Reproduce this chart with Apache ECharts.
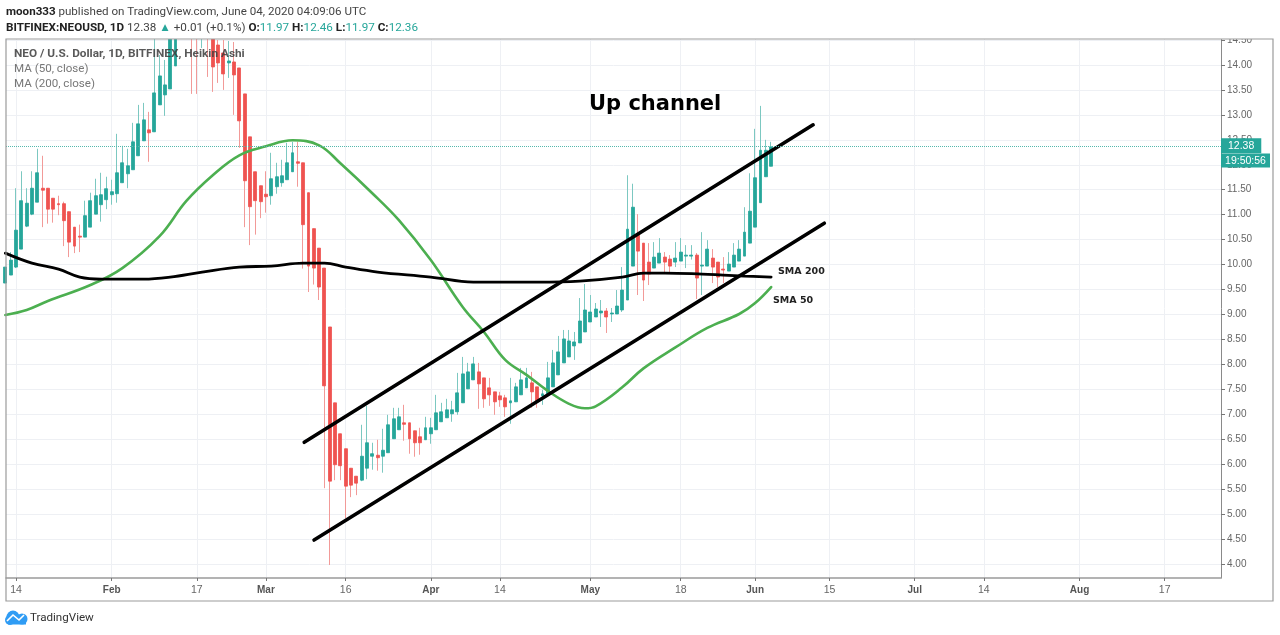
<!DOCTYPE html>
<html><head><meta charset="utf-8">
<style>html,body{margin:0;padding:0;background:#fff}#c{width:1280px;height:635px}</style>
<script src="https://cdn.jsdelivr.net/npm/echarts@6/dist/echarts.min.js"></script>
</head><body><div id="c"></div>
<script>
const firstDay = -2; // day index 0 = Jan 14 2020
const candleOpen = [
9.63,9.79,9.95,10.31,10.77,11.01,11.25,11.53,11.53,11.33,
11.22,11.22,11.06,10.75,10.57,10.55,10.75,11.01,11.20,11.30,
11.40,11.42,11.64,11.82,11.90,12.18,12.48,12.70,12.66,13.20,
13.40,13.52,13.98,14.90,15.30,15.20,15.00,14.70,15.00,14.80,
14.40,14.24,14.04,14.06,13.94,13.42,12.56,11.86,11.58,11.41,
11.38,11.56,11.64,11.70,11.86,12.06,12.04,11.44,10.72,10.33,
9.93,8.75,7.23,6.61,6.31,5.92,5.76,5.68,5.92,6.16,
6.18,6.16,6.23,6.51,6.69,6.83,6.83,6.67,6.55,6.49,
6.61,6.69,6.85,6.93,7.01,7.05,7.23,7.51,7.69,7.85,
7.73,7.53,7.45,7.37,7.33,7.23,7.25,7.39,7.53,7.63,
7.55,7.37,7.41,7.55,7.79,8.03,8.15,8.37,8.43,8.65,
8.85,8.95,9.03,9.07,9.01,9.01,9.09,9.29,9.97,10.59,
10.43,10.05,9.93,10.03,10.15,10.11,10.05,10.07,10.17,10.17,
10.19,9.97,9.97,10.13,10.05,9.91,9.87,9.95,10.07,10.17,
10.43,10.75,11.24,11.76,11.97];
const candleClose = [
9.95,10.09,10.69,11.28,11.23,11.53,11.84,11.49,11.11,11.11,
11.20,10.88,10.45,10.37,10.55,10.98,11.28,11.38,11.40,11.52,
11.46,11.84,12.04,11.98,12.46,12.82,12.90,12.64,13.44,13.78,
13.60,14.80,15.00,15.30,15.00,14.80,14.60,15.00,14.70,13.96,
14.04,13.82,14.08,13.80,12.88,11.68,11.16,11.28,11.26,11.36,
11.72,11.76,11.78,12.04,12.24,12.03,10.80,9.97,9.93,9.55,
7.57,5.66,5.99,5.97,5.56,5.58,5.62,6.16,6.43,6.21,
6.13,6.28,6.79,6.91,6.95,6.80,6.51,6.43,6.43,6.73,
6.73,7.03,7.05,7.09,7.09,7.43,7.81,7.85,8.01,7.61,
7.31,7.39,7.25,7.29,7.15,7.27,7.55,7.69,7.73,7.45,
7.27,7.41,7.73,8.03,8.25,8.51,8.47,8.45,8.87,9.09,
9.05,9.11,9.07,8.95,9.03,9.17,9.49,10.71,11.15,10.27,
9.69,9.81,10.15,10.23,10.05,9.97,10.13,10.25,10.19,10.19,
9.73,9.99,10.31,9.95,9.75,9.89,10.01,10.19,10.31,10.65,
11.07,11.74,12.29,12.29,12.36];
const candleLow = [
9.6,9.79,9.93,10.31,10.75,10.99,11.25,10.75,10.82,10.84,
10.99,10.37,10.15,10.23,10.25,10.55,10.75,11.01,10.86,11.11,
11.20,11.24,11.64,11.53,11.90,12.18,12.48,12.06,12.66,13.20,
12.98,13.52,13.98,14.90,14.70,13.42,13.42,14.34,13.76,13.46,
13.64,13.50,13.74,13.00,12.34,10.75,10.39,10.60,10.93,11.04,
11.20,11.42,11.56,11.70,11.86,11.56,9.92,9.45,9.60,9.29,
5.52,3.98,5.68,5.68,4.92,5.34,5.38,5.66,5.70,5.89,
5.87,5.83,6.23,6.51,6.69,6.47,6.21,6.15,6.19,6.49,
6.41,6.69,6.85,6.93,6.85,6.99,7.23,7.51,7.69,7.11,
7.13,7.17,6.99,7.15,6.95,6.81,7.25,7.39,7.53,7.13,
7.13,7.19,7.41,7.55,7.79,8.03,8.15,8.09,8.43,8.65,
8.85,8.95,8.75,8.63,8.85,9.01,9.05,9.29,9.97,9.39,
9.27,9.59,9.93,10.03,9.81,9.83,9.95,10.07,9.93,10.10,
9.31,9.39,9.97,9.63,9.55,9.63,9.87,9.95,10.07,10.17,
10.43,10.75,11.24,11.76,11.97];
const candleHigh = [
9.98,10.25,11.53,11.87,11.53,11.87,12.32,12.18,11.53,11.33,
11.38,11.26,11.06,10.75,10.80,11.28,11.44,11.72,11.84,11.76,
11.70,12.62,12.38,12.32,12.84,13.20,13.24,13.06,14.60,14.20,
14.10,15.20,15.30,15.40,15.40,15.40,15.20,15.20,15.10,15.00,
14.50,14.50,14.48,14.46,13.94,13.42,12.56,11.86,11.58,11.87,
12.24,12.04,12.10,12.44,12.46,12.46,12.04,11.44,10.72,10.33,
9.93,8.75,7.23,6.61,6.31,5.92,5.76,6.79,7.17,6.43,
6.49,6.71,6.99,7.13,7.13,7.19,6.83,6.67,6.73,6.95,
6.93,7.39,7.23,7.31,7.27,7.83,8.15,8.03,8.15,8.03,
7.73,7.73,7.45,7.45,7.39,7.73,7.63,7.93,7.93,7.85,
7.55,7.49,8.05,8.29,8.57,8.69,8.69,8.65,9.33,9.61,
9.39,9.23,9.29,9.13,9.13,9.49,9.95,11.79,11.62,11.01,
10.43,10.43,10.45,10.53,10.25,10.19,10.45,10.53,10.39,10.39,
10.23,10.65,10.49,10.31,10.05,10.15,10.25,10.43,10.49,11.15,
11.83,12.72,13.18,12.50,12.46];

const sma50Days = [-2,2,6,14,20,27,32,37,42,47,52,57,61,67,72,78,84,88,92,96,100,104,107,109,114,118,124,130,136,139,142];
const sma50Values = [8.99,9.09,9.27,9.59,9.93,10.57,11.27,11.79,12.19,12.37,12.49,12.39,12.03,11.43,10.89,10.09,9.15,8.65,8.09,7.79,7.47,7.21,7.12,7.16,7.54,7.92,8.34,8.73,9.01,9.23,9.55];
const sma200Days = [-2,3,8,12,16,24,29,35,42,48,54,58,62,68,78,86,98,106,114,118,122,129,133,137,142];
const sma200Values = [10.23,10.03,9.91,9.75,9.71,9.71,9.75,9.85,9.95,9.97,10.03,10.03,9.95,9.85,9.75,9.65,9.65,9.67,9.75,9.83,9.83,9.81,9.79,9.77,9.75];
const upperChannelDays = [54.2,149.9];
const upperChannelValues = [6.44,12.80];
const lowerChannelDays = [56.05,152];
const lowerChannelValues = [4.48,10.83];
const lastPrice = 12.38;

const xTickDays = [0,18,34,47,62,78,91,108,125,139,153,169,182,200,216];
const xTickLabels = ['14','Feb','17','Mar','16','Apr','14','May','18','Jun','15','Jul','14','Aug','17'];
const xMonthLabels = ['Feb','Mar','Apr','May','Jun','Jul','Aug'];
const priceTicks = [4,4.5,5,5.5,6,6.5,7,7.5,8,8.5,9,9.5,10,10.5,11,11.5,12,12.5,13,13.5,14,14.5];

const TEAL='#26a69a', RED='#ef5350', FONT='"Liberation Sans",sans-serif', HFONT='Roboto,sans-serif';
const pair=(a,b)=>a.map((v,i)=>[v,b[i]]);
const wicks=candleOpen.map((o,i)=>[firstDay+i,o,candleClose[i],candleLow[i],candleHigh[i]]);
const bodies=candleOpen.map((o,i)=>[firstDay+i,o,candleClose[i],Math.min(o,candleClose[i]),Math.max(o,candleClose[i])]);
const lineSeries=(name,data,color,width,smooth,z)=>({type:'line',name,data,smooth,symbol:'none',z,animation:false,
  lineStyle:{color,width,cap:'round'},silent:true});

const chart=echarts.init(document.getElementById('c'),null,{renderer:'canvas'});
const txt=(x,y,text,fs,extra)=>({type:'text',x,y,z:100,silent:true,
  style:Object.assign({text,fontSize:fs,fontFamily:HFONT,fill:'#131722',verticalAlign:'middle'},extra||{})});
chart.setOption({
 animation:false,
 grid:{left:6,right:59,top:39,bottom:57,containLabel:false},
 xAxis:{type:'value',min:-1.88,max:226.6,
  axisLine:{onZero:false,lineStyle:{color:'#9b9b9b',width:1.5}},
  axisTick:{show:true,length:3,customValues:xTickDays,lineStyle:{color:'#777'}},
  splitLine:{show:true,lineStyle:{color:'#eef0f4',width:1}},
  axisLabel:{customValues:xTickDays,margin:7,color:'#666',fontSize:10.5,fontFamily:FONT,hideOverlap:false,
    showMinLabel:true,showMaxLabel:true,
    formatter:v=>{const l=xTickLabels[xTickDays.indexOf(v)];return xMonthLabels.includes(l)?'{b|'+l+'}':l;},
    rich:{b:{fontWeight:'bold',color:'#555',fontSize:10,fontFamily:FONT}}}},
 yAxis:{type:'value',position:'right',min:3.72,max:14.52,
  axisLine:{show:true,onZero:false,lineStyle:{color:'#8a8a8a',width:1}},
  axisTick:{show:true,length:4,customValues:priceTicks,lineStyle:{color:'#777'}},
  splitLine:{show:true,lineStyle:{color:'#eef0f4',width:1}},
  axisLabel:{customValues:priceTicks,margin:6,color:'#666',fontSize:10,fontFamily:FONT,hideOverlap:false,
    showMinLabel:true,showMaxLabel:true,formatter:v=>v.toFixed(2)}},
 series:[
  {type:'candlestick',name:'wicks',data:wicks,encode:{x:0,y:[1,2,3,4]},barWidth:1,z:2,silent:true,animation:false,
   itemStyle:{color:'#7cc8c1',color0:'#f29a98',borderColor:'#7cc8c1',borderColor0:'#f29a98',borderWidth:1},
   markLine:{silent:true,symbol:'none',animation:false,z:20,
     lineStyle:{color:'#55b8ad',type:'dotted',width:1},
     label:{show:true,position:'end',distance:0,formatter:'12.38',color:'#fff',fontSize:10.5,fontFamily:FONT,
       backgroundColor:TEAL,padding:[2,7,2,7]},
     data:[{yAxis:lastPrice}]}},
  {type:'candlestick',name:'bodies',data:bodies,encode:{x:0,y:[1,2,3,4]},barWidth:3.4,z:3,silent:true,animation:false,
   itemStyle:{color:TEAL,color0:RED,borderColor:TEAL,borderColor0:RED,borderWidth:0.8}},
  lineSeries('MA 50',pair(sma50Days,sma50Values),'#4caf50',2.6,0.4,5),
  lineSeries('MA 200',pair(sma200Days,sma200Values),'#000',2.8,0.4,5),
  lineSeries('Upper channel',pair(upperChannelDays,upperChannelValues),'#000',3.6,false,6),
  lineSeries('Lower channel',pair(lowerChannelDays,lowerChannelValues),'#000',3.6,false,6)
 ],
 graphic:[
  {type:'rect',z:90,silent:true,shape:{x:0,y:0,width:1280,height:39},style:{fill:'#fff'}},
  {type:'rect',z:91,silent:true,shape:{x:6,y:39,width:1267,height:562},style:{fill:'none',stroke:'#9b9b9b',lineWidth:1.2}},
  {type:'rect',z:92,silent:true,shape:{x:1221,y:153.5,width:49,height:14},style:{fill:TEAL}},
  txt(1245.5,161,'19:50:56',10.5,{fontFamily:FONT,fill:'#fff',align:'center'}),
  txt(6,12,'{b|moon333} published on TradingView.com, June 04, 2020 04:09:06 UTC',11.6,{fill:'#444',
     rich:{b:{fontWeight:'bold',fontSize:11.6,fontFamily:HFONT,fill:'#222'}}}),
  txt(6,28,'{b|BITFINEX:NEOUSD, 1D} 12.38 {t|▲} +0.01 (+0.1%) {b|O:}{t|11.97} {b|H:}{t|12.46} {b|L:}{t|11.97} {b|C:}{t|12.36}',11.7,{fill:'#444',
     rich:{b:{fontWeight:'bold',fontSize:11.7,fontFamily:HFONT,fill:'#222'},t:{fontSize:11.7,fontFamily:HFONT,fill:TEAL}}}),
  txt(14,54,'NEO / U.S. Dollar, 1D, BITFINEX, Heikin Ashi',11.8,{fill:'rgba(60,60,60,0.85)',fontWeight:'bold'}),
  txt(14,69,'MA (50, close)',11.6,{fill:'#777'}),
  txt(14,84,'MA (200, close)',11.6,{fill:'#777'}),
  txt(589,105,'Up channel',21,{fontFamily:'"DejaVu Sans",sans-serif',fontWeight:'bold',fill:'#000'}),
  txt(778,272,'SMA 200',9.5,{fontFamily:'"DejaVu Sans",sans-serif',fontWeight:'bold',fill:'#222'}),
  txt(773,301,'SMA 50',9.5,{fontFamily:'"DejaVu Sans",sans-serif',fontWeight:'bold',fill:'#222'}),
  txt(30,618,'TradingView',11.6,{fill:'#333'}),
  {type:'group',z:100,silent:true,children:[
    {type:'circle',shape:{cx:13,cy:617,r:6.5},style:{fill:'#2f9cf4'}},
    {type:'circle',shape:{cx:22,cy:619,r:5.5},style:{fill:'#2f9cf4'}},
    {type:'circle',shape:{cx:10,cy:620,r:5},style:{fill:'#2f9cf4'}},
    {type:'rect',shape:{x:8,y:619,width:18,height:5.5},style:{fill:'#2f9cf4'}},
    {type:'polyline',shape:{points:[[7,621],[13,615],[19,620],[24,615]]},style:{stroke:'#fff',lineWidth:1.6,fill:'none'}}
  ]}
 ]
});
</script></body></html>
